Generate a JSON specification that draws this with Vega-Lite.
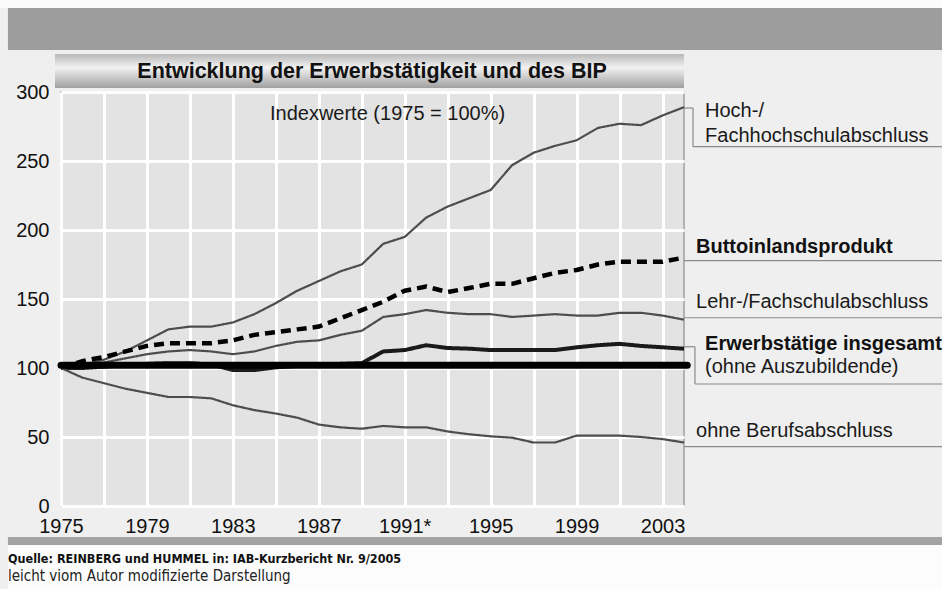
{
  "$schema": "https://vega.github.io/schema/vega-lite/v6.json",
  "width": 623,
  "height": 414,
  "autosize": {"type": "none"},
  "padding": {"left": 61, "top": 92, "right": 258, "bottom": 83},
  "background": "#efefef",
  "config": {
    "view": {"fill": "#e3e3e3", "stroke": "#a0a0a0", "strokeWidth": 1.5},
    "font": "Liberation Sans",
    "axis": {"grid": true, "gridColor": "#ffffff", "gridWidth": 3, "gridOpacity": 1, "ticks": false, "domain": false}
  },
  "data": {"values": [{}]},
  "datasets": {
    "series": [
      {"year": 1975, "series": "Hoch", "value": 100},
      {"year": 1976, "series": "Hoch", "value": 102},
      {"year": 1977, "series": "Hoch", "value": 106},
      {"year": 1978, "series": "Hoch", "value": 112},
      {"year": 1979, "series": "Hoch", "value": 120},
      {"year": 1980, "series": "Hoch", "value": 128},
      {"year": 1981, "series": "Hoch", "value": 130},
      {"year": 1982, "series": "Hoch", "value": 130},
      {"year": 1983, "series": "Hoch", "value": 133},
      {"year": 1984, "series": "Hoch", "value": 139},
      {"year": 1985, "series": "Hoch", "value": 147},
      {"year": 1986, "series": "Hoch", "value": 156},
      {"year": 1987, "series": "Hoch", "value": 163},
      {"year": 1988, "series": "Hoch", "value": 170},
      {"year": 1989, "series": "Hoch", "value": 175},
      {"year": 1990, "series": "Hoch", "value": 190},
      {"year": 1991, "series": "Hoch", "value": 195},
      {"year": 1992, "series": "Hoch", "value": 209},
      {"year": 1993, "series": "Hoch", "value": 217},
      {"year": 1994, "series": "Hoch", "value": 223},
      {"year": 1995, "series": "Hoch", "value": 229},
      {"year": 1996, "series": "Hoch", "value": 247},
      {"year": 1997, "series": "Hoch", "value": 256},
      {"year": 1998, "series": "Hoch", "value": 261},
      {"year": 1999, "series": "Hoch", "value": 265},
      {"year": 2000, "series": "Hoch", "value": 274},
      {"year": 2001, "series": "Hoch", "value": 277},
      {"year": 2002, "series": "Hoch", "value": 276},
      {"year": 2003, "series": "Hoch", "value": 283},
      {"year": 2004, "series": "Hoch", "value": 289},
      {"year": 1975, "series": "BIP", "value": 100},
      {"year": 1976, "series": "BIP", "value": 105},
      {"year": 1977, "series": "BIP", "value": 108},
      {"year": 1978, "series": "BIP", "value": 112},
      {"year": 1979, "series": "BIP", "value": 116},
      {"year": 1980, "series": "BIP", "value": 118},
      {"year": 1981, "series": "BIP", "value": 118},
      {"year": 1982, "series": "BIP", "value": 118},
      {"year": 1983, "series": "BIP", "value": 120},
      {"year": 1984, "series": "BIP", "value": 124},
      {"year": 1985, "series": "BIP", "value": 126},
      {"year": 1986, "series": "BIP", "value": 128},
      {"year": 1987, "series": "BIP", "value": 130},
      {"year": 1988, "series": "BIP", "value": 136},
      {"year": 1989, "series": "BIP", "value": 142},
      {"year": 1990, "series": "BIP", "value": 148},
      {"year": 1991, "series": "BIP", "value": 156},
      {"year": 1992, "series": "BIP", "value": 159},
      {"year": 1993, "series": "BIP", "value": 155},
      {"year": 1994, "series": "BIP", "value": 158},
      {"year": 1995, "series": "BIP", "value": 161},
      {"year": 1996, "series": "BIP", "value": 161},
      {"year": 1997, "series": "BIP", "value": 165},
      {"year": 1998, "series": "BIP", "value": 169},
      {"year": 1999, "series": "BIP", "value": 171},
      {"year": 2000, "series": "BIP", "value": 175},
      {"year": 2001, "series": "BIP", "value": 177},
      {"year": 2002, "series": "BIP", "value": 177},
      {"year": 2003, "series": "BIP", "value": 177},
      {"year": 2004, "series": "BIP", "value": 180},
      {"year": 1975, "series": "Lehr", "value": 100},
      {"year": 1976, "series": "Lehr", "value": 102},
      {"year": 1977, "series": "Lehr", "value": 104},
      {"year": 1978, "series": "Lehr", "value": 107},
      {"year": 1979, "series": "Lehr", "value": 110},
      {"year": 1980, "series": "Lehr", "value": 112},
      {"year": 1981, "series": "Lehr", "value": 113},
      {"year": 1982, "series": "Lehr", "value": 112},
      {"year": 1983, "series": "Lehr", "value": 110},
      {"year": 1984, "series": "Lehr", "value": 112},
      {"year": 1985, "series": "Lehr", "value": 116},
      {"year": 1986, "series": "Lehr", "value": 119},
      {"year": 1987, "series": "Lehr", "value": 120},
      {"year": 1988, "series": "Lehr", "value": 124},
      {"year": 1989, "series": "Lehr", "value": 127},
      {"year": 1990, "series": "Lehr", "value": 137},
      {"year": 1991, "series": "Lehr", "value": 139},
      {"year": 1992, "series": "Lehr", "value": 142},
      {"year": 1993, "series": "Lehr", "value": 140},
      {"year": 1994, "series": "Lehr", "value": 139},
      {"year": 1995, "series": "Lehr", "value": 139},
      {"year": 1996, "series": "Lehr", "value": 137},
      {"year": 1997, "series": "Lehr", "value": 138},
      {"year": 1998, "series": "Lehr", "value": 139},
      {"year": 1999, "series": "Lehr", "value": 138},
      {"year": 2000, "series": "Lehr", "value": 138},
      {"year": 2001, "series": "Lehr", "value": 140},
      {"year": 2002, "series": "Lehr", "value": 140},
      {"year": 2003, "series": "Lehr", "value": 138},
      {"year": 2004, "series": "Lehr", "value": 135},
      {"year": 1975, "series": "Erwerb", "value": 100},
      {"year": 1976, "series": "Erwerb", "value": 100},
      {"year": 1977, "series": "Erwerb", "value": 101},
      {"year": 1978, "series": "Erwerb", "value": 102},
      {"year": 1979, "series": "Erwerb", "value": 103},
      {"year": 1980, "series": "Erwerb", "value": 103.5},
      {"year": 1981, "series": "Erwerb", "value": 103.5},
      {"year": 1982, "series": "Erwerb", "value": 102.5},
      {"year": 1983, "series": "Erwerb", "value": 98.5},
      {"year": 1984, "series": "Erwerb", "value": 98.5},
      {"year": 1985, "series": "Erwerb", "value": 100.5},
      {"year": 1986, "series": "Erwerb", "value": 101.5},
      {"year": 1987, "series": "Erwerb", "value": 102},
      {"year": 1988, "series": "Erwerb", "value": 103},
      {"year": 1989, "series": "Erwerb", "value": 103.5},
      {"year": 1990, "series": "Erwerb", "value": 112},
      {"year": 1991, "series": "Erwerb", "value": 113},
      {"year": 1992, "series": "Erwerb", "value": 116.5},
      {"year": 1993, "series": "Erwerb", "value": 114.5},
      {"year": 1994, "series": "Erwerb", "value": 114},
      {"year": 1995, "series": "Erwerb", "value": 113},
      {"year": 1996, "series": "Erwerb", "value": 113},
      {"year": 1997, "series": "Erwerb", "value": 113},
      {"year": 1998, "series": "Erwerb", "value": 113},
      {"year": 1999, "series": "Erwerb", "value": 115},
      {"year": 2000, "series": "Erwerb", "value": 116.5},
      {"year": 2001, "series": "Erwerb", "value": 117.5},
      {"year": 2002, "series": "Erwerb", "value": 116},
      {"year": 2003, "series": "Erwerb", "value": 115},
      {"year": 2004, "series": "Erwerb", "value": 114},
      {"year": 1975, "series": "ohne", "value": 100},
      {"year": 1976, "series": "ohne", "value": 93},
      {"year": 1977, "series": "ohne", "value": 89},
      {"year": 1978, "series": "ohne", "value": 85},
      {"year": 1979, "series": "ohne", "value": 82},
      {"year": 1980, "series": "ohne", "value": 79},
      {"year": 1981, "series": "ohne", "value": 79},
      {"year": 1982, "series": "ohne", "value": 78},
      {"year": 1983, "series": "ohne", "value": 73},
      {"year": 1984, "series": "ohne", "value": 69.5},
      {"year": 1985, "series": "ohne", "value": 67},
      {"year": 1986, "series": "ohne", "value": 64},
      {"year": 1987, "series": "ohne", "value": 59},
      {"year": 1988, "series": "ohne", "value": 57},
      {"year": 1989, "series": "ohne", "value": 56},
      {"year": 1990, "series": "ohne", "value": 58},
      {"year": 1991, "series": "ohne", "value": 57},
      {"year": 1992, "series": "ohne", "value": 57},
      {"year": 1993, "series": "ohne", "value": 54},
      {"year": 1994, "series": "ohne", "value": 52},
      {"year": 1995, "series": "ohne", "value": 50.5},
      {"year": 1996, "series": "ohne", "value": 49.5},
      {"year": 1997, "series": "ohne", "value": 46},
      {"year": 1998, "series": "ohne", "value": 46},
      {"year": 1999, "series": "ohne", "value": 51},
      {"year": 2000, "series": "ohne", "value": 51},
      {"year": 2001, "series": "ohne", "value": 51},
      {"year": 2002, "series": "ohne", "value": 50},
      {"year": 2003, "series": "ohne", "value": 48.5},
      {"year": 2004, "series": "ohne", "value": 46}
    ]
  },
  "layer": [
    {
      "data": {"name": "series"},
      "mark": {"type": "line", "strokeJoin": "round"},
      "encoding": {
        "x": {
          "field": "year", "type": "quantitative", "title": null,
          "scale": {"domain": [1975, 2004], "nice": false, "zero": false},
          "axis": {
            "values": [1975, 1977, 1979, 1981, 1983, 1985, 1987, 1989, 1991, 1993, 1995, 1997, 1999, 2001, 2003],
            "labelExpr": "datum.value % 4 == 3 ? (datum.value == 1991 ? '1991*' : '' + datum.value) : ''",
            "title": null, "grid": true, "gridColor": "#ffffff", "gridWidth": 3,
            "ticks": false, "domain": false, "labelFontSize": 20, "labelColor": "#111111",
            "labelPadding": 10, "labelFlush": false, "labelOverlap": false, "labelFont": "Liberation Sans"
          }
        },
        "y": {
          "field": "value", "type": "quantitative", "title": null,
          "scale": {"domain": [0, 300], "nice": false},
          "axis": {
            "values": [0, 50, 100, 150, 200, 250, 300],
            "title": null, "grid": true, "gridColor": "#ffffff", "gridWidth": 3,
            "ticks": false, "domain": false, "labelFontSize": 20, "labelColor": "#111111",
            "labelPadding": 12, "labelFont": "Liberation Sans"
          }
        },
        "color": {"field": "series", "type": "nominal", "scale": {"domain": ["Hoch", "BIP", "Lehr", "Erwerb", "ohne"], "range": ["#4d4d4d", "#000000", "#4d4d4d", "#1a1a1a", "#4d4d4d"]}, "legend": null},
        "strokeDash": {"field": "series", "type": "nominal", "scale": {"domain": ["Hoch", "BIP", "Lehr", "Erwerb", "ohne"], "range": [[1, 0], [10, 6], [1, 0], [1, 0], [1, 0]]}, "legend": null},
        "strokeWidth": {"condition": [{"test": "datum.series == 'BIP'", "value": 4.5}, {"test": "datum.series == 'Erwerb'", "value": 4}], "value": 2.2}
      }
    },
    {
      "mark": {"type": "rule", "color": "#000000", "strokeWidth": 7, "strokeCap": "round"},
      "encoding": {
        "x": {"datum": 1975, "type": "quantitative", "title": null},
        "x2": {"datum": 2004.15},
        "y": {"datum": 102, "type": "quantitative", "title": null}
      }
    },
    {
      "mark": {"type": "rect", "color": "#fbfbfb", "strokeWidth": 0},
      "encoding": {
        "x": {"datum": 1970, "type": "quantitative", "title": null},
        "x2": {"datum": 2020},
        "y": {"datum": 360.9, "type": "quantitative", "title": null},
        "y2": {"datum": 375}
      }
    },
    {
      "mark": {"type": "rect", "color": "#9d9d9d", "strokeWidth": 0},
      "encoding": {
        "x": {"datum": 1972.53, "type": "quantitative", "title": null},
        "x2": {"datum": 2020},
        "y": {"datum": 330.4, "type": "quantitative", "title": null},
        "y2": {"datum": 360.9}
      }
    },
    {
      "mark": {
        "type": "rect",
        "strokeWidth": 0,
        "color": {
          "gradient": "linear", "x1": 0, "y1": 0, "x2": 0, "y2": 1,
          "stops": [
            {"offset": 0, "color": "#b8b8b8"},
            {"offset": 0.4, "color": "#f2f2f2"},
            {"offset": 1, "color": "#a0a0a0"}
          ]
        }
      },
      "encoding": {
        "x": {"datum": 1974.72, "type": "quantitative", "title": null},
        "x2": {"datum": 2004.0},
        "y": {"datum": 302.9, "type": "quantitative", "title": null},
        "y2": {"datum": 327.5}
      }
    },
    {
      "mark": {"type": "rect", "color": "#a3a3a3", "strokeWidth": 0},
      "encoding": {
        "x": {"datum": 1972.53, "type": "quantitative", "title": null},
        "x2": {"datum": 2020},
        "y": {"datum": -28.3, "type": "quantitative", "title": null},
        "y2": {"datum": -22.5}
      }
    },
    {
      "mark": {"type": "rect", "color": "#fcfcfc", "strokeWidth": 0},
      "encoding": {
        "x": {"datum": 1972.53, "type": "quantitative", "title": null},
        "x2": {"datum": 2020},
        "y": {"datum": -65, "type": "quantitative", "title": null},
        "y2": {"datum": -28.3}
      }
    },
    {
      "mark": {"type": "text", "align": "center", "baseline": "alphabetic", "fontSize": 21.5, "fontWeight": "bold", "color": "#111111", "font": "Liberation Sans"},
      "encoding": {
        "x": {"datum": 1989.48, "type": "quantitative", "title": null},
        "y": {"datum": 310.1, "type": "quantitative", "title": null},
        "text": {"value": "Entwicklung der Erwerbstätigkeit und des BIP"}
      }
    },
    {
      "mark": {"type": "rule", "color": "#8a8a8a", "strokeWidth": 1.2},
      "encoding": {
        "x": {"datum": 2004.0, "type": "quantitative", "title": null},
        "x2": {"datum": 2004.42},
        "y": {"datum": 288.4, "type": "quantitative", "title": null}
      }
    },
    {
      "mark": {"type": "rule", "color": "#8a8a8a", "strokeWidth": 1.2},
      "encoding": {
        "x": {"datum": 2004.42, "type": "quantitative", "title": null},
        "y": {"datum": 260.4, "type": "quantitative", "title": null},
        "y2": {"datum": 288.4}
      }
    },
    {
      "mark": {"type": "rule", "color": "#8a8a8a", "strokeWidth": 1.2},
      "encoding": {
        "x": {"datum": 2004.42, "type": "quantitative", "title": null},
        "x2": {"datum": 2016.5},
        "y": {"datum": 260.4, "type": "quantitative", "title": null}
      }
    },
    {
      "mark": {"type": "rule", "color": "#8a8a8a", "strokeWidth": 1.2},
      "encoding": {
        "x": {"datum": 2004.0, "type": "quantitative", "title": null},
        "x2": {"datum": 2016.5},
        "y": {"datum": 177.8, "type": "quantitative", "title": null}
      }
    },
    {
      "mark": {"type": "rule", "color": "#8a8a8a", "strokeWidth": 1.2},
      "encoding": {
        "x": {"datum": 2004.0, "type": "quantitative", "title": null},
        "x2": {"datum": 2016.5},
        "y": {"datum": 136.4, "type": "quantitative", "title": null}
      }
    },
    {
      "mark": {"type": "rule", "color": "#8a8a8a", "strokeWidth": 1.2},
      "encoding": {
        "x": {"datum": 2004.0, "type": "quantitative", "title": null},
        "x2": {"datum": 2004.51},
        "y": {"datum": 115.4, "type": "quantitative", "title": null}
      }
    },
    {
      "mark": {"type": "rule", "color": "#8a8a8a", "strokeWidth": 1.2},
      "encoding": {
        "x": {"datum": 2004.51, "type": "quantitative", "title": null},
        "y": {"datum": 88.4, "type": "quantitative", "title": null},
        "y2": {"datum": 115.4}
      }
    },
    {
      "mark": {"type": "rule", "color": "#8a8a8a", "strokeWidth": 1.2},
      "encoding": {
        "x": {"datum": 2004.51, "type": "quantitative", "title": null},
        "x2": {"datum": 2016.5},
        "y": {"datum": 88.4, "type": "quantitative", "title": null}
      }
    },
    {
      "mark": {"type": "rule", "color": "#8a8a8a", "strokeWidth": 1.2},
      "encoding": {
        "x": {"datum": 2004.0, "type": "quantitative", "title": null},
        "x2": {"datum": 2016.5},
        "y": {"datum": 43.0, "type": "quantitative", "title": null}
      }
    },
    {
      "mark": {"type": "text", "align": "left", "baseline": "alphabetic", "fontSize": 20, "color": "#1a1a1a", "font": "Liberation Sans"},
      "encoding": {
        "x": {"datum": 2004.98, "type": "quantitative", "title": null},
        "y": {"datum": 282.1, "type": "quantitative", "title": null},
        "text": {"value": "Hoch-/"}
      }
    },
    {
      "mark": {"type": "text", "align": "left", "baseline": "alphabetic", "fontSize": 20, "color": "#1a1a1a", "font": "Liberation Sans"},
      "encoding": {
        "x": {"datum": 2004.98, "type": "quantitative", "title": null},
        "y": {"datum": 264.0, "type": "quantitative", "title": null},
        "text": {"value": "Fachhochschulabschluss"}
      }
    },
    {
      "mark": {"type": "text", "align": "left", "baseline": "alphabetic", "fontSize": 20, "fontWeight": "bold", "color": "#111111", "font": "Liberation Sans"},
      "encoding": {
        "x": {"datum": 2004.56, "type": "quantitative", "title": null},
        "y": {"datum": 183.3, "type": "quantitative", "title": null},
        "text": {"value": "Buttoinlandsprodukt"}
      }
    },
    {
      "mark": {"type": "text", "align": "left", "baseline": "alphabetic", "fontSize": 20, "color": "#1a1a1a", "font": "Liberation Sans"},
      "encoding": {
        "x": {"datum": 2004.56, "type": "quantitative", "title": null},
        "y": {"datum": 143.7, "type": "quantitative", "title": null},
        "text": {"value": "Lehr-/Fachschulabschluss"}
      }
    },
    {
      "mark": {"type": "text", "align": "left", "baseline": "alphabetic", "fontSize": 20, "fontWeight": "bold", "color": "#111111", "font": "Liberation Sans"},
      "encoding": {
        "x": {"datum": 2004.98, "type": "quantitative", "title": null},
        "y": {"datum": 113.0, "type": "quantitative", "title": null},
        "text": {"value": "Erwerbstätige insgesamt"}
      }
    },
    {
      "mark": {"type": "text", "align": "left", "baseline": "alphabetic", "fontSize": 20, "color": "#1a1a1a", "font": "Liberation Sans"},
      "encoding": {
        "x": {"datum": 2004.98, "type": "quantitative", "title": null},
        "y": {"datum": 96.6, "type": "quantitative", "title": null},
        "text": {"value": "(ohne Auszubildende)"}
      }
    },
    {
      "mark": {"type": "text", "align": "left", "baseline": "alphabetic", "fontSize": 20, "color": "#1a1a1a", "font": "Liberation Sans"},
      "encoding": {
        "x": {"datum": 2004.56, "type": "quantitative", "title": null},
        "y": {"datum": 50.2, "type": "quantitative", "title": null},
        "text": {"value": "ohne Berufsabschluss"}
      }
    },
    {
      "mark": {"type": "text", "align": "center", "baseline": "alphabetic", "fontSize": 20, "color": "#1a1a1a", "font": "Liberation Sans"},
      "encoding": {
        "x": {"datum": 1990.2, "type": "quantitative", "title": null},
        "y": {"datum": 279.7, "type": "quantitative", "title": null},
        "text": {"value": "Indexwerte (1975 = 100%)"}
      }
    },
    {
      "mark": {"type": "text", "align": "left", "baseline": "alphabetic", "fontSize": 12.5, "fontWeight": "bold", "color": "#111111", "font": "Liberation Sans Narrow, Arial Narrow, DejaVu Sans Condensed, sans-serif"},
      "encoding": {
        "x": {"datum": 1972.53, "type": "quantitative", "title": null},
        "y": {"datum": -41, "type": "quantitative", "title": null},
        "text": {"value": "Quelle: REINBERG und HUMMEL in: IAB-Kurzbericht  Nr. 9/2005"}
      }
    },
    {
      "mark": {"type": "text", "align": "left", "baseline": "alphabetic", "fontSize": 15, "color": "#222222", "font": "Liberation Sans Narrow, Arial Narrow, DejaVu Sans Condensed, sans-serif"},
      "encoding": {
        "x": {"datum": 1972.53, "type": "quantitative", "title": null},
        "y": {"datum": -54.5, "type": "quantitative", "title": null},
        "text": {"value": "leicht viom Autor modifizierte Darstellung"}
      }
    }
  ]
}
